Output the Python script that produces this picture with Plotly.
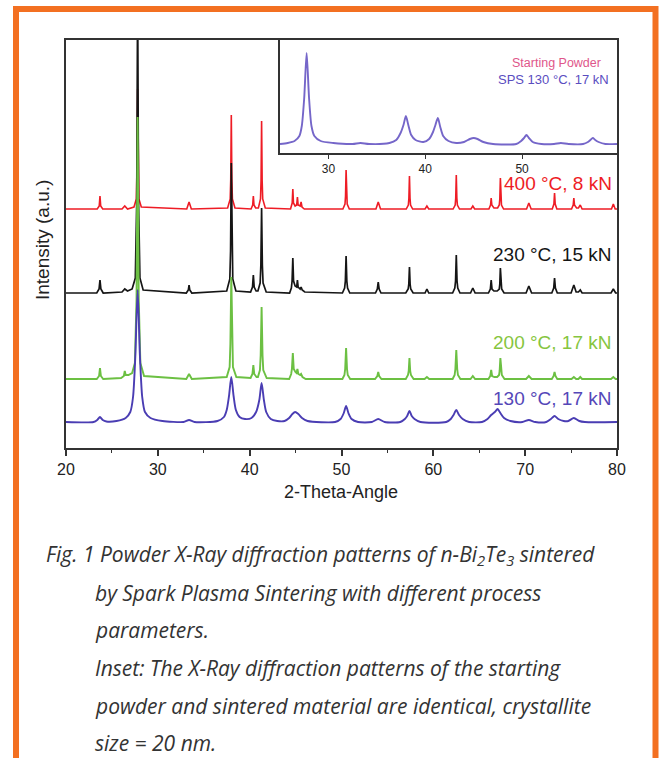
import plotly.graph_objects as go

# ---------------- data (intensity above each pattern's own baseline, a.u.) ----------------
series_names = ["400 °C, 8 kN", "230 °C, 15 kN", "200 °C, 17 kN", "130 °C, 17 kN"]
offsets = [239, 155, 69, 26]          # stacking offsets of the patterns (a.u.)

red_pts = [(20, 0), (23.4, 0), (23.62, 3), (23.7, 13), (23.78, 3), (24.0, 0),
           (26.1, 0), (26.4, 3), (26.7, 0),
           (27.4, 2), (27.66, 10), (27.75, 50), (27.8, 120), (27.85, 50), (27.94, 10), (28.2, 2),
           (33.15, 0), (33.4, 7), (33.65, 0),
           (37.6, 1), (37.88, 10), (37.94, 30), (38.0, 94), (38.06, 30), (38.12, 10), (38.4, 1),
           (40.15, 0), (40.33, 4), (40.4, 13), (40.47, 4), (40.65, 1),
           (40.95, 1), (41.18, 10), (41.24, 28), (41.3, 88), (41.36, 28), (41.42, 10), (41.7, 1),
           (44.45, 0), (44.63, 6), (44.7, 20), (44.77, 6), (44.95, 3),
           (45.12, 4), (45.2, 12), (45.28, 4), (45.5, 3), (45.6, 7), (45.7, 2), (45.95, 0),
           (50.15, 0), (50.38, 5), (50.44, 13), (50.5, 39), (50.56, 13), (50.62, 5), (50.85, 0),
           (53.75, 0), (54.0, 7), (54.25, 0),
           (57.05, 0), (57.28, 4), (57.34, 11), (57.4, 33), (57.46, 11), (57.52, 4), (57.75, 0),
           (59.1, 0), (59.3, 3), (59.5, 0),
           (62.15, 0), (62.38, 4), (62.44, 11), (62.5, 34), (62.56, 11), (62.62, 4), (62.85, 0),
           (64.1, 0), (64.3, 3), (64.5, 0),
           (66.05, 0), (66.23, 4), (66.3, 11), (66.37, 4), (66.6, 1),
           (67.0, 1), (67.18, 4), (67.24, 10), (67.3, 31), (67.36, 10), (67.42, 4), (67.65, 0),
           (70.15, 0), (70.4, 6), (70.65, 0),
           (72.95, 0), (73.13, 5), (73.2, 16), (73.27, 5), (73.45, 0),
           (75.05, 0), (75.23, 4), (75.3, 11), (75.37, 4), (75.6, 1), (75.8, 1), (76.0, 4), (76.2, 0),
           (79.4, 0), (79.6, 5), (79.8, 0), (80, 0)]

black_pts = [(20, 0), (23.35, 0), (23.6, 4), (23.7, 13), (23.8, 4), (24.05, 0),
             (26.1, 1), (26.4, 4), (26.7, 2),
             (27.2, 4), (27.55, 15), (27.7, 90), (27.8, 300), (27.9, 90), (28.05, 15), (28.4, 3),
             (33.1, 0), (33.32, 3), (33.4, 8), (33.48, 3), (33.7, 0),
             (37.5, 2), (37.84, 14), (37.92, 42), (38.0, 130), (38.08, 42), (38.16, 14), (38.5, 2),
             (40.1, 1), (40.31, 6), (40.4, 18), (40.49, 6), (40.7, 2),
             (40.9, 2), (41.14, 10), (41.22, 28), (41.3, 85), (41.38, 28), (41.46, 10), (41.8, 1),
             (44.35, 0), (44.54, 5), (44.62, 12), (44.7, 35), (44.78, 12), (44.95, 7),
             (45.12, 6), (45.2, 13), (45.28, 6), (45.5, 4), (45.6, 6), (45.72, 3), (46.0, 1),
             (50.1, 0), (50.34, 5), (50.42, 12), (50.5, 37), (50.58, 12), (50.66, 5), (50.9, 0),
             (53.7, 0), (53.9, 4), (54.0, 11), (54.1, 4), (54.3, 0),
             (57.0, 0), (57.26, 4), (57.33, 9), (57.4, 26), (57.47, 9), (57.54, 4), (57.8, 0),
             (59.1, 0), (59.3, 4), (59.5, 0),
             (62.1, 0), (62.34, 5), (62.42, 12), (62.5, 38), (62.58, 12), (62.66, 5), (62.9, 0),
             (64.05, 0), (64.3, 5), (64.55, 0),
             (66.0, 0), (66.21, 4), (66.3, 13), (66.39, 4), (66.6, 2),
             (66.95, 2), (67.18, 4), (67.24, 9), (67.3, 25), (67.36, 9), (67.44, 4), (67.7, 0),
             (70.1, 0), (70.4, 7), (70.7, 0),
             (72.9, 0), (73.11, 5), (73.2, 15), (73.29, 5), (73.5, 0),
             (75.0, 0), (75.3, 8), (75.55, 1), (75.8, 1), (76.0, 3), (76.2, 0),
             (79.35, 0), (79.6, 4), (79.85, 0), (80, 0)]

green_pts = [(20, 0), (23.35, 0), (23.6, 3), (23.7, 11), (23.8, 3), (24.05, 0),
             (26.0, 1), (26.3, 3), (26.4, 8), (26.5, 4), (26.8, 4),
             (27.2, 6), (27.5, 16), (27.68, 80), (27.8, 262), (27.92, 80), (28.1, 16), (28.5, 3),
             (33.1, 0), (33.4, 5), (33.7, 0),
             (37.5, 2), (37.82, 12), (37.9, 35), (38.0, 102), (38.1, 35), (38.18, 12), (38.55, 2),
             (40.1, 1), (40.3, 5), (40.4, 14), (40.5, 5), (40.75, 2),
             (40.9, 2), (41.12, 9), (41.2, 24), (41.3, 72), (41.4, 24), (41.48, 9), (41.85, 1),
             (44.3, 0), (44.52, 5), (44.6, 10), (44.7, 26), (44.8, 10), (44.98, 7),
             (45.1, 6), (45.2, 10), (45.3, 5), (45.5, 4), (45.6, 5), (45.75, 2), (46.1, 0),
             (50.1, 0), (50.32, 4), (50.4, 10), (50.5, 31), (50.6, 10), (50.68, 4), (50.95, 0),
             (53.65, 0), (53.9, 3), (54.0, 7), (54.1, 3), (54.35, 0),
             (57.0, 0), (57.24, 4), (57.32, 8), (57.4, 21), (57.48, 8), (57.56, 4), (57.85, 0),
             (59.05, 0), (59.3, 2), (59.55, 0),
             (62.1, 0), (62.32, 4), (62.4, 10), (62.5, 29), (62.6, 10), (62.68, 4), (62.95, 0),
             (64.05, 0), (64.3, 3), (64.55, 0),
             (66.0, 0), (66.2, 3), (66.3, 9), (66.4, 3), (66.65, 2),
             (66.95, 2), (67.16, 4), (67.22, 8), (67.3, 21), (67.38, 8), (67.46, 4), (67.75, 0),
             (70.1, 0), (70.4, 3), (70.7, 0),
             (72.9, 0), (73.1, 3), (73.2, 7), (73.3, 3), (73.5, 0),
             (75.05, 0), (75.3, 2), (75.55, 0), (75.8, 0), (76.0, 2), (76.2, 0),
             (79.35, 0), (79.6, 2), (79.85, 0), (80, 0)]

blue_pts = [(20, 0), (23.0, 0), (23.4, 2), (23.7, 5), (24.0, 2), (24.4, 0.5),
            (25.5, 1), (26.5, 4), (27.0, 10), (27.3, 25), (27.55, 66), (27.8, 132),
            (28.05, 66), (28.3, 25), (28.6, 10), (29.2, 4), (30.5, 1),
            (32.8, 0), (33.4, 2), (34.0, 0),
            (36.5, 1), (37.2, 5), (37.5, 12), (37.75, 26), (38.0, 45), (38.25, 26), (38.5, 12),
            (38.9, 5), (39.5, 3), (40.2, 4), (40.7, 10), (41.05, 22), (41.3, 39), (41.55, 22),
            (41.8, 10), (42.3, 3), (43.0, 1),
            (43.8, 1), (44.3, 4), (44.65, 8), (44.95, 10), (45.3, 8), (45.7, 4), (46.3, 1),
            (49.3, 0), (49.9, 3), (50.25, 9), (50.5, 16), (50.75, 9), (51.1, 3), (51.8, 0),
            (53.3, 0), (54.0, 3), (54.7, 0),
            (56.4, 0), (56.9, 3), (57.15, 6), (57.4, 11), (57.65, 6), (57.95, 3), (58.6, 0),
            (61.4, 0), (61.9, 3), (62.2, 7), (62.5, 12), (62.8, 7), (63.2, 3), (63.9, 0),
            (65.3, 0), (65.9, 3), (66.3, 7), (66.7, 10), (67.0, 13), (67.3, 9), (67.7, 4), (68.4, 1),
            (69.7, 0), (70.4, 2), (71.1, 0),
            (72.3, 0), (72.8, 3), (73.2, 6), (73.6, 3), (74.2, 1),
            (74.7, 1), (75.3, 4), (75.9, 1), (76.5, 0), (80, 0)]

# inset: starting powder / SPS 130 °C, 17 kN (identical patterns)
inset_offset = 9
inset_pts = [(25, 0), (25.8, 1), (26.5, 3), (27.0, 8), (27.25, 18), (27.5, 46), (27.75, 91),
             (28.0, 46), (28.25, 18), (28.55, 8), (29.2, 3), (30.5, 1), (32.5, 0), (33.3, 1),
             (34.2, 0), (36.3, 1), (37.0, 4), (37.45, 11), (37.75, 19), (38.0, 28), (38.25, 19),
             (38.55, 9), (39.0, 4), (39.8, 2), (40.4, 5), (40.8, 12), (41.05, 19), (41.3, 26),
             (41.55, 17), (41.85, 8), (42.4, 3), (43.2, 1), (44.0, 2), (44.6, 5), (45.0, 6),
             (45.4, 5), (46.0, 2), (47.0, 0), (49.4, 0), (49.9, 3), (50.2, 6), (50.45, 9),
             (50.7, 6), (51.1, 2), (52.0, 0), (53.3, 0), (54.0, 1), (54.8, 0), (56.3, 0),
             (56.8, 2), (57.05, 4), (57.3, 6), (57.55, 4), (57.9, 2), (58.6, 0), (59.8, 0)]
inset_names = ["Starting Powder", "SPS 130 °C, 17 kN"]

x_ticks = [20, 30, 40, 50, 60, 70, 80]
inset_ticks = [30, 40, 50]

caption_lines = [
    "Fig. 1 Powder X-Ray diffraction patterns of n-Bi<sub>2</sub>Te<sub>3</sub> sintered",
    "by Spark Plasma Sintering with different process",
    "parameters.",
    "Inset: The X-Ray diffraction patterns of the starting",
    "powder and sintered material are identical, crystallite",
    "size = 20 nm.",
]

# ---------------- figure ----------------
W, H = 660, 758
L, R, T, B = 66, 43, 40, 310
pw, ph = W - L - R, H - T - B


def px(xp):
    return (xp - L) / pw


def py(yp):
    return (T + ph - yp) / ph


colors = ["#ee1c25", "#151515", "#6cc043", "#4a3db3"]
label_colors = ["#ee1c25", "#151515", "#86c540", "#5547b8"]
widths = [1.6, 1.7, 1.9, 1.9]
shapes_ = ["linear", "linear", "linear", "spline"]

fig = go.Figure()
for pts, off, col, lw, shp, nm in zip([red_pts, black_pts, green_pts, blue_pts], offsets,
                                      colors, widths, shapes_, series_names):
    xs = [p[0] for p in pts]
    ys = [p[1] + off for p in pts]
    fig.add_trace(go.Scatter(x=xs, y=ys, mode="lines", name=nm,
                             line=dict(color=col, width=lw, shape=shp, smoothing=0.7),
                             xaxis="x", yaxis="y", showlegend=False, cliponaxis=True))

fig.add_trace(go.Scatter(x=[p[0] for p in inset_pts], y=[p[1] + inset_offset for p in inset_pts],
                         mode="lines", name=inset_names[1],
                         line=dict(color="#7566c9", width=1.9, shape="spline", smoothing=0.7),
                         xaxis="x2", yaxis="y2", showlegend=False))

axis_font = dict(family="Liberation Sans, Arial, sans-serif", size=16, color="#222")
frame = "#333333"

inset_x0 = px(280)
inset_y0 = py(153)

fig.update_layout(
    width=W, height=H,
    margin=dict(l=L, r=R, t=T, b=B),
    paper_bgcolor="white", plot_bgcolor="white",
    xaxis=dict(range=[20, 80], tickvals=x_ticks, ticks="outside", ticklen=6, tickwidth=1.5,
               tickcolor=frame, showline=True, linecolor=frame, linewidth=1.8, mirror=True,
               showgrid=False, zeroline=False, tickfont=axis_font,
               minor=dict(dtick=5, ticks="outside", ticklen=3, tickwidth=1.2, tickcolor=frame)),
    yaxis=dict(range=[0, ph], showticklabels=False, ticks="", showline=True, linecolor=frame,
               linewidth=1.8, mirror=True, showgrid=False, zeroline=False),
    xaxis2=dict(domain=[inset_x0, 1], anchor="y2", range=[25, 59.8], tickvals=inset_ticks,
                ticks="outside", ticklen=4, tickwidth=1.2, tickcolor=frame, showline=True,
                linecolor=frame, linewidth=1.8, mirror=True, showgrid=False, zeroline=False,
                tickfont=dict(family="Liberation Sans, Arial, sans-serif", size=12, color="#222")),
    yaxis2=dict(domain=[inset_y0, 1], anchor="x2", range=[0, 113], showticklabels=False,
                ticks="", showline=True, linecolor=frame, linewidth=1.8, mirror=True,
                showgrid=False, zeroline=False),
)

ann = []
label_y = [265, 194, 106, 50]
for nm, yy, col in zip(series_names, label_y, label_colors):
    ann.append(dict(text=nm, x=px(614), y=yy, xref="paper", yref="y", xanchor="right",
                    yanchor="middle", showarrow=False,
                    font=dict(family="Liberation Sans, Arial, sans-serif", size=19, color=col)))

ann.append(dict(text=inset_names[0], x=px(603), y=py(63), xref="paper", yref="paper",
                xanchor="right", yanchor="middle", showarrow=False,
                font=dict(family="Liberation Sans, Arial, sans-serif", size=12.5, color="#e0568a")))
ann.append(dict(text=inset_names[1], x=px(611), y=py(79), xref="paper", yref="paper",
                xanchor="right", yanchor="middle", showarrow=False,
                font=dict(family="Liberation Sans, Arial, sans-serif", size=13, color="#5a4dbf")))

ann.append(dict(text="Intensity (a.u.)", x=px(42), y=py(240), xref="paper", yref="paper",
                xanchor="center", yanchor="middle", textangle=-90, showarrow=False,
                font=dict(family="Liberation Sans, Arial, sans-serif", size=19, color="#222")))
ann.append(dict(text="2-Theta-Angle", x=px(341), y=py(492), xref="paper", yref="paper",
                xanchor="center", yanchor="middle", showarrow=False,
                font=dict(family="Liberation Sans, Arial, sans-serif", size=18, color="#222")))

cap_x = [44, 93, 93, 93, 93, 93]
cap_y = [555, 593, 630, 668, 706, 743]
for line, cx, cy in zip(caption_lines, cap_x, cap_y):
    ann.append(dict(text="<i>" + line + "</i>", x=px(cx), y=py(cy), xref="paper", yref="paper",
                    xanchor="left", yanchor="middle", showarrow=False,
                    font=dict(family="Open Sans, sans-serif", size=21, color="#333")))

fig.update_layout(annotations=ann)

fig.add_shape(type="rect", xref="paper", yref="paper",
              x0=px(16), x1=px(655.5), y0=py(820), y1=py(9),
              line=dict(color="#f37021", width=6), fillcolor="rgba(0,0,0,0)", layer="above")

fig.write_html("out.html", config={"displayModeBar": False},
               post_script="document.body.style.margin='0';document.body.style.overflow='hidden';")
